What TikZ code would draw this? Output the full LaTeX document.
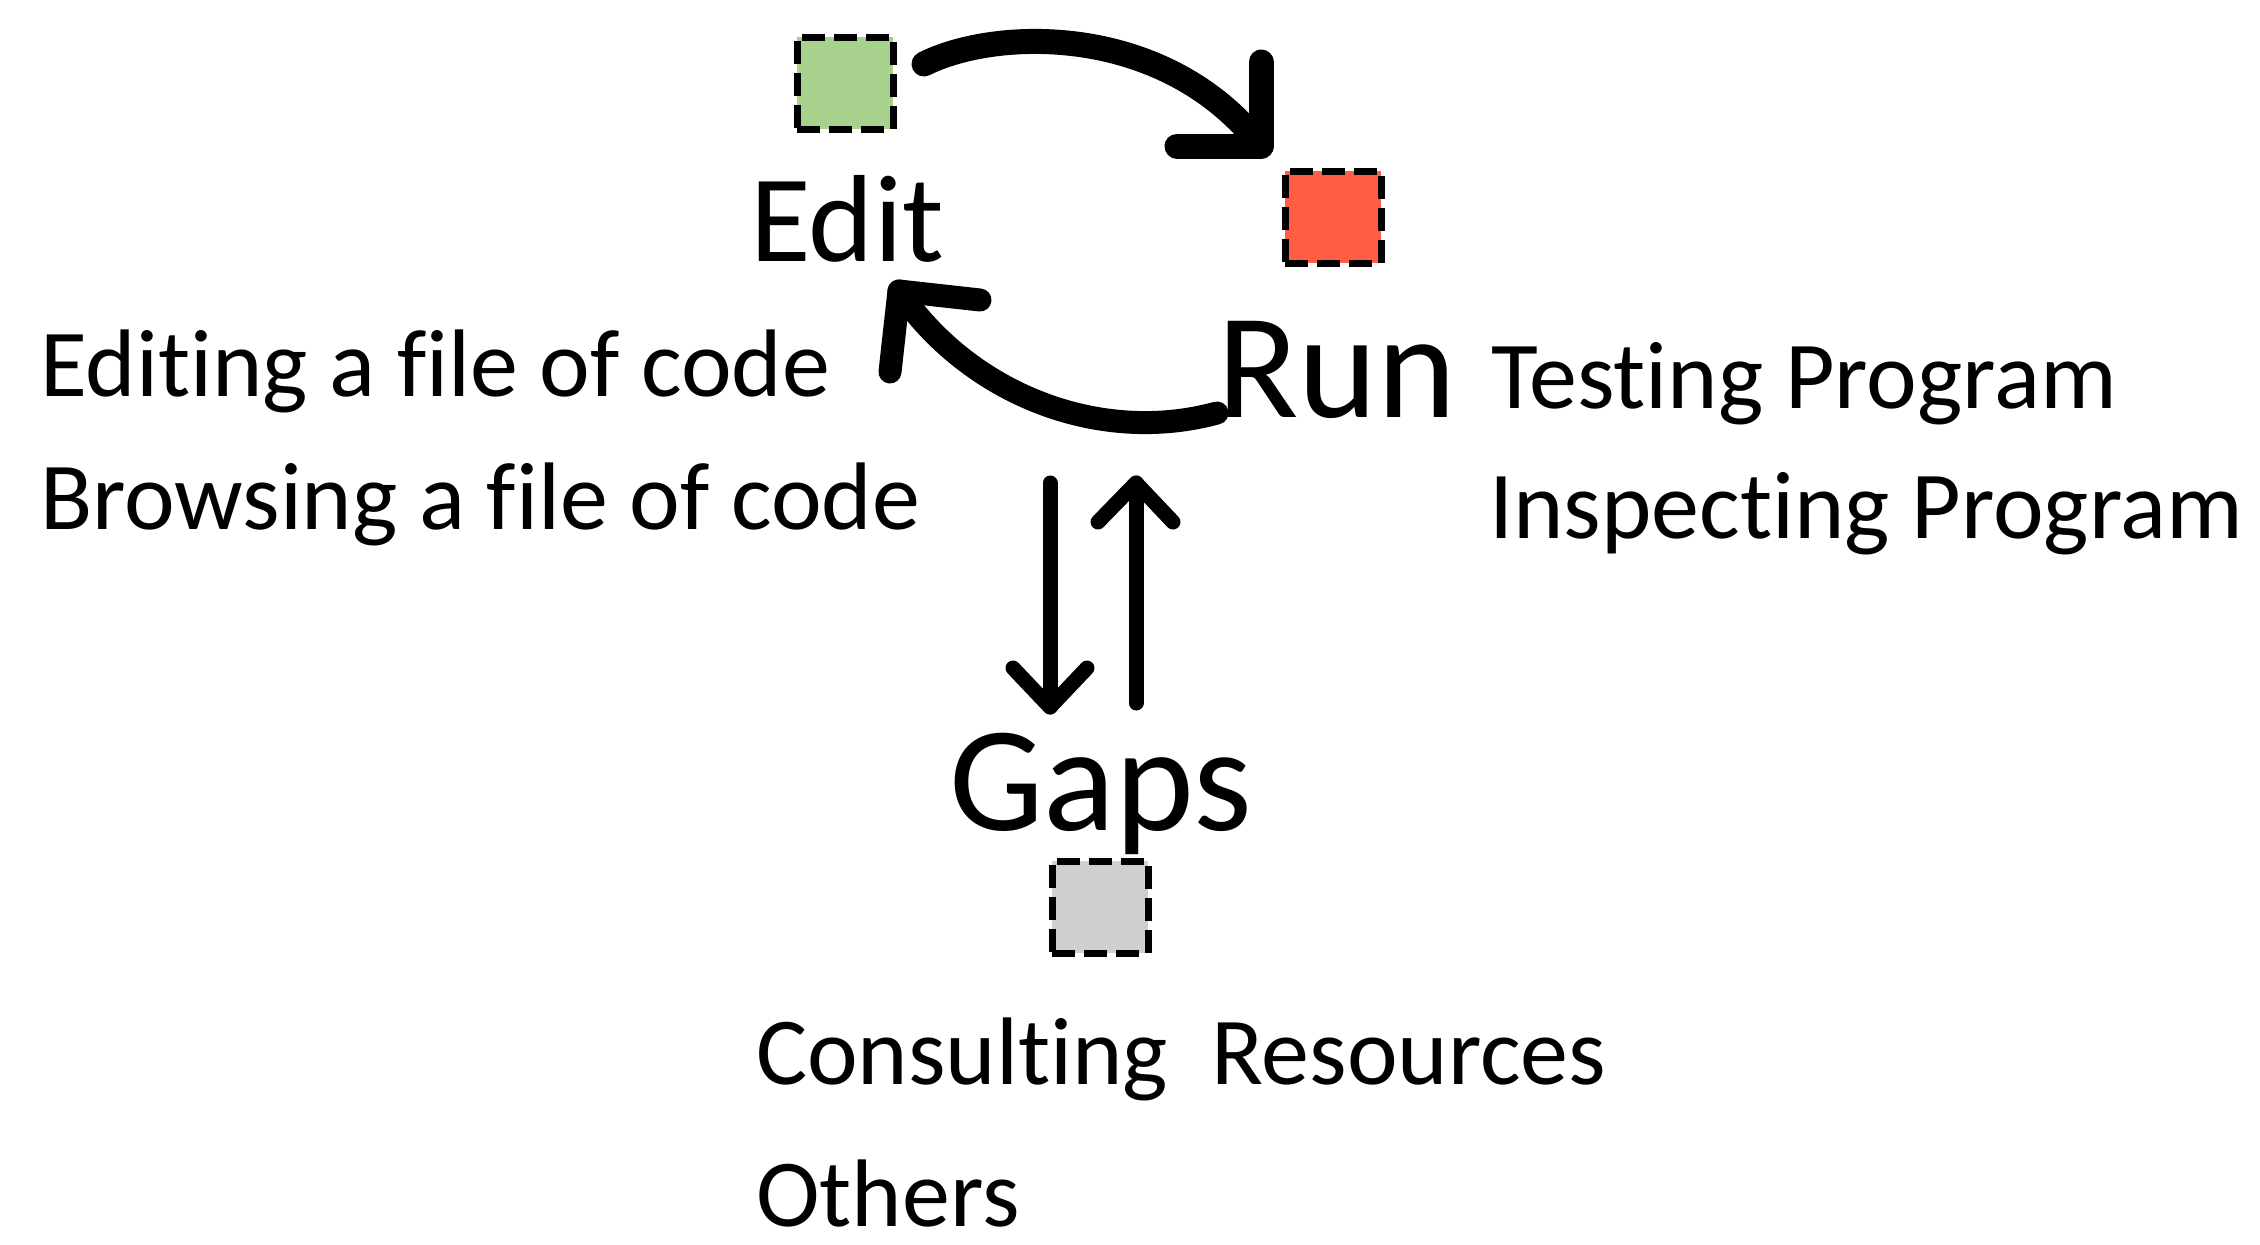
\documentclass[tikz,border=0pt]{standalone}
\usepackage{fontspec}
\setmainfont{Carlito}[Ligatures={NoCommon}]
\begin{document}
\begin{tikzpicture}[x=1pt,y=-1pt,
  box/.style={draw=black, dash pattern=on 23pt off 9pt, line width=7pt,
    minimum width=96pt, minimum height=92pt, inner sep=0pt},
  bigtxt/.style={font=\fontsize{150}{180}\selectfont, inner sep=0pt, anchor=base west},
  midtxt/.style={font=\fontsize{124}{148}\selectfont, inner sep=0pt, anchor=base west},
  smalltxt/.style={font=\fontsize{96}{115}\selectfont, inner sep=0pt, anchor=base west},
  thick arrow/.style={draw=black, line width=25pt, line cap=round, line join=round},
  mid arrow/.style={draw=black, line width=23pt, line cap=round, line join=round},
  thin arrow/.style={draw=black, line width=15pt, line cap=round, line join=round}
]
\useasboundingbox (0,0) rectangle (2260,1245);
\definecolor{boxgreen}{HTML}{A9D18E}
\definecolor{boxred}{HTML}{FF5E44}
\definecolor{boxgrey}{HTML}{D0CECE}

% squares
\node[box, fill=boxgreen] (editbox) at (845,83) {};
\node[box, fill=boxred] (runbox) at (1333,217) {};
\node[box, fill=boxgrey] (gapsbox) at (1100,907) {};

% texts
\node[midtxt] (edit) at (750,261) {Edit};
\node[bigtxt] (run) at (1217,417) {Run};
\node[bigtxt] (gaps) at (949,830) {Gaps};
\node[smalltxt] (edit1) at (40,396) {Editing a file of code};
\node[smalltxt] (edit2) at (40,529) {Browsing a file of code};
\node[smalltxt] (run1) at (1491,408) {Testing Program};
\node[smalltxt] (run2) at (1489,538) {Inspecting Program};
\node[smalltxt] (gaps1) at (756,1084) {Consulting\ \ Resources};
\node[smalltxt] (gaps2) at (756,1226) {Others};

% arrow Edit -> Run
\coordinate (a1s) at (924,64);
\coordinate (a1e) at (1261,146);
\coordinate (a1l) at (1261,62);
\coordinate (a1r) at (1177,146);
\draw[thick arrow] (a1s) .. controls (995,28) and (1165,22) .. (a1e);
\draw[thick arrow] (a1l) -- (a1e) -- (a1r);

% arrow Run -> Edit
\coordinate (a2s) at (1217,413);
\coordinate (a2e) at (899,291);
\coordinate (a2l) at (980,300);
\coordinate (a2r) at (890,372);
\draw[mid arrow] (a2s) .. controls (1100,445) and (970,395) .. (a2e);
\draw[mid arrow] (a2l) -- (a2e) -- (a2r);

% down arrow
\coordinate (a3s) at (1050,483);
\coordinate (a3e) at (1050,707);
\coordinate (a3l) at (1013,668);
\coordinate (a3r) at (1087,668);
\draw[thin arrow] (a3s) -- (a3e);
\draw[thin arrow] (a3l) -- (a3e) -- (a3r);

% up arrow
\coordinate (a4s) at (1136,703);
\coordinate (a4e) at (1136,483);
\coordinate (a4l) at (1098,522);
\coordinate (a4r) at (1173,522);
\draw[thin arrow] (a4s) -- (a4e);
\draw[thin arrow] (a4l) -- (a4e) -- (a4r);
\end{tikzpicture}
\end{document}
